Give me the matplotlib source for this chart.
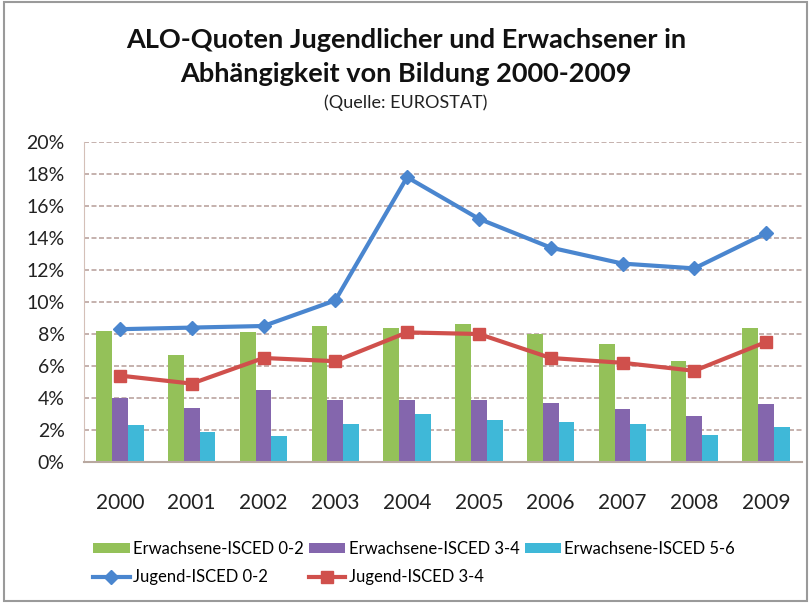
import numpy as np
import matplotlib.pyplot as plt
from matplotlib.patches import Rectangle
from matplotlib.ticker import FuncFormatter

plt.rcParams['font.family'] = ['Lato', 'DejaVu Sans']

years = ['2000', '2001', '2002', '2003', '2004', '2005', '2006', '2007', '2008', '2009']
erw_0_2 = [8.2, 6.7, 8.1, 8.5, 8.4, 8.6, 8.0, 7.4, 6.3, 8.4]
erw_3_4 = [4.0, 3.4, 4.5, 3.9, 3.9, 3.9, 3.7, 3.3, 2.9, 3.6]
erw_5_6 = [2.3, 1.9, 1.6, 2.4, 3.0, 2.6, 2.5, 2.4, 1.7, 2.2]
jug_0_2 = [8.3, 8.4, 8.5, 10.1, 17.8, 15.2, 13.4, 12.4, 12.1, 14.3]
jug_3_4 = [5.4, 4.9, 6.5, 6.3, 8.1, 8.0, 6.5, 6.2, 5.7, 7.5]

c_green = '#94c159'
c_purple = '#8466ad'
c_cyan = '#3fb8d8'
c_blue = '#4a86cf'
c_red = '#d0504c'

fig = plt.figure(figsize=(8.12, 6.03), dpi=100)
ax = fig.add_axes([84 / 812, 1 - 462 / 603, 718 / 812, 320 / 603])

x = np.arange(len(years))
w = 0.22
b1 = ax.bar(x - w, erw_0_2, w, color=c_green, label='Erwachsene-ISCED 0-2', zorder=2)
b2 = ax.bar(x, erw_3_4, w, color=c_purple, label='Erwachsene-ISCED 3-4', zorder=2)
b3 = ax.bar(x + w, erw_5_6, w, color=c_cyan, label='Erwachsene-ISCED 5-6', zorder=2)
l1, = ax.plot(x, jug_0_2, color=c_blue, lw=3, marker='D', ms=7,
              label='Jugend-ISCED 0-2', zorder=3)
l2, = ax.plot(x, jug_3_4, color=c_red, lw=3, marker='s', ms=9,
              label='Jugend-ISCED 3-4', zorder=3)

ax.set_xlim(-0.5, len(years) - 0.5)
ax.set_ylim(0, 20)
ax.set_yticks(np.arange(0, 21, 2))
ax.yaxis.set_major_formatter(FuncFormatter(lambda v, p: f'{v:.0f}%'))
ax.set_xticks(x)
ax.set_xticklabels(years)
ax.tick_params(axis='both', length=0, colors='#222222')
ax.tick_params(axis='x', pad=22, labelsize=15)
ax.tick_params(axis='y', pad=14, labelsize=14)
ax.yaxis.grid(True, ls=(0, (3, 1.5)), color='#bba4a0', lw=1.2, zorder=0)
for s in ['top', 'right']:
    ax.spines[s].set_visible(False)
ax.spines['left'].set_color('#d4c0b8')
ax.spines['bottom'].set_color('#b8a8a0')
ax.spines['bottom'].set_linewidth(1.5)

fig.text(0.5, 1 - 40 / 603, 'ALO-Quoten Jugendlicher und Erwachsener in',
         ha='center', va='center', fontsize=19.5, fontweight='bold', color='#111111')
fig.text(0.5, 1 - 74 / 603, 'Abhängigkeit von Bildung 2000-2009',
         ha='center', va='center', fontsize=19.5, fontweight='bold', color='#111111')
fig.text(0.5, 1 - 103 / 603, '(Quelle: EUROSTAT)',
         ha='center', va='center', fontsize=13, color='#222222')

handles = [b1, l1, b2, l2, b3]
fig.legend(handles=handles, labels=[h.get_label() for h in handles], ncol=3,
           loc='center left', bbox_to_anchor=(78 / 812, 1 - 563 / 603),
           frameon=False, fontsize=12, handlelength=2.2, handleheight=0.5,
           handletextpad=0.2, columnspacing=0.3, labelspacing=0.75)

fig.patches.append(Rectangle((4 / 812, 0.003), 803 / 812, 0.994, transform=fig.transFigure,
                             fill=False, edgecolor='#9a9a9a', lw=1.5))

fig.savefig('out.png', dpi=100)
